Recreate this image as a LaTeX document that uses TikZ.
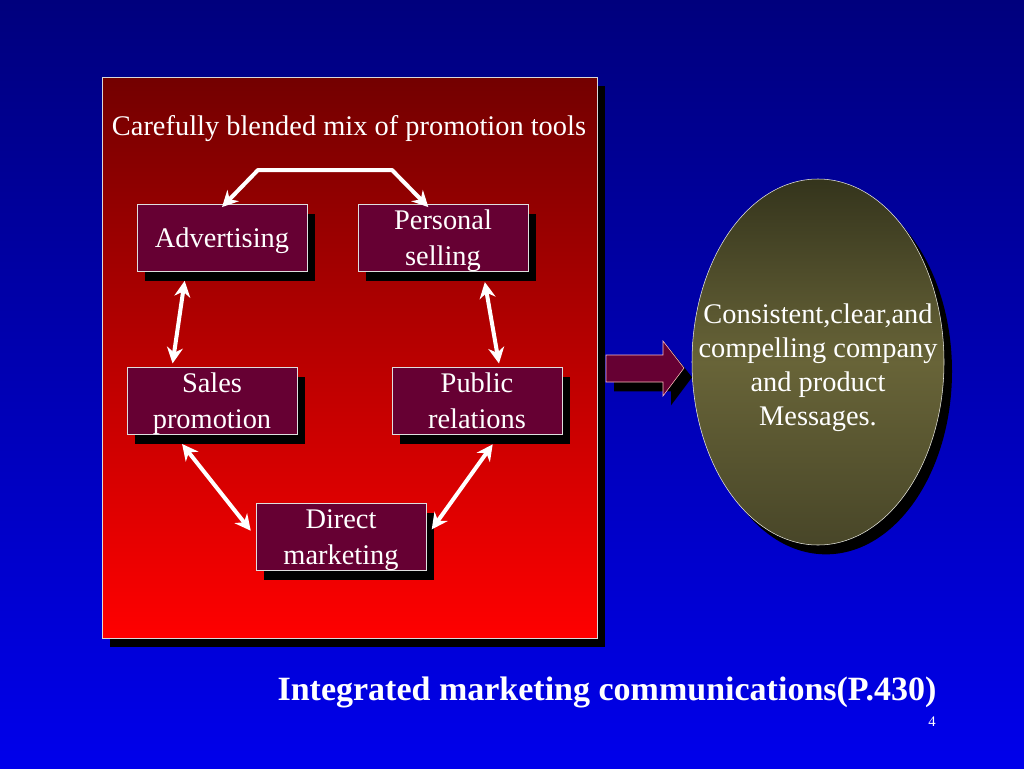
\documentclass[tikz,border=0pt]{standalone}
\usepackage{fontspec}
\setmainfont{Liberation Serif}
\usetikzlibrary{arrows.meta,shadows,shapes.geometric}
\definecolor{bgtop}{RGB}{0,0,125}
\definecolor{bgbot}{RGB}{0,0,235}
\definecolor{paneltop}{RGB}{115,0,0}
\definecolor{panelbot}{RGB}{255,0,0}
\definecolor{boxred}{RGB}{102,0,51}
\definecolor{olivetop}{RGB}{52,52,28}
\definecolor{olivemid}{RGB}{104,100,56}
\definecolor{olivebot}{RGB}{72,70,40}
\begin{document}
\begin{tikzpicture}[x=0.75pt,y=-0.75pt,every node/.style={font=\fontsize{21.3}{25.5}\selectfont,text=white},
  shade/.style={drop shadow={shadow xshift=6pt,shadow yshift=-7pt,fill=black,opacity=1}},
  box/.style={draw=gray!25,fill=boxred,minimum width=127.5pt,minimum height=50pt,align=center,inner sep=0pt,
    font=\fontsize{21.3}{27}\selectfont,text depth=-3pt,shade},
  link/.style={{Stealth[length=12pt,width=12pt]}-{Stealth[length=12pt,width=12pt]},white,line width=3pt}]
\useasboundingbox (0,0) rectangle (1024,768);
\shade[top color=bgtop,bottom color=bgbot] (0,0) rectangle (1024,768);
% promotion mix panel
\draw[draw=gray!30,top color=paneltop,bottom color=panelbot,shade] (102,77) rectangle (597,638);
\node (mix) at (349,129) {Carefully blended mix of promotion tools};
\node[box] (adv) at (222,238) {Advertising};
\node[box] (pers) at (443,238) {Personal\\selling};
\node[box] (sales) at (212,401) {Sales\\promotion};
\node[box] (pub) at (477,401) {Public\\relations};
\node[box] (dir) at (341,537) {Direct\\marketing};
\coordinate (tl) at (258,170);
\coordinate (tr) at (392,170);
\draw[link,line join=round] ([yshift=-2pt]adv.north) -- (tl) -- (tr) -- ([xshift=-11pt,yshift=-2pt]pers.north);
\draw[link,shorten <=7pt,shorten >=3pt] ([xshift=-27pt]adv.south) -- ([xshift=-30pt]sales.north);
\draw[link,shorten <=8pt,shorten >=3pt] ([xshift=30pt]pers.south) -- ([xshift=17pt]pub.north);
\draw[link,shorten <=9pt,shorten >=6pt] ([xshift=-28pt]sales.south) -- (dir.west);
\draw[link,shorten <=9pt,shorten >=7pt] ([xshift=17pt]pub.south) -- (dir.east);
% result
\draw[draw=pink,fill=boxred,shade] (606,355) -- (663,355) -- (663,341) -- (684,368) -- (663,396) -- (663,382) -- (606,382) -- cycle;
\node[ellipse,draw=white!85!olivemid,top color=olivetop,bottom color=olivebot,middle color=olivemid,
  minimum width=189pt,minimum height=274.5pt,inner sep=0pt,shade] (msg) at (818,362) {};
\node[align=center] (msgtext) at ([yshift=-4pt]msg.center) {Consistent,clear,and\\compelling company\\and product\\Messages.};
\node[font=\fontsize{25.5}{30}\selectfont\bfseries] (imc) at (607,692) {Integrated marketing communications(P.430)};
\node[font=\fontsize{11}{13}\selectfont] (num) at (932,722) {4};
\end{tikzpicture}
\end{document}
